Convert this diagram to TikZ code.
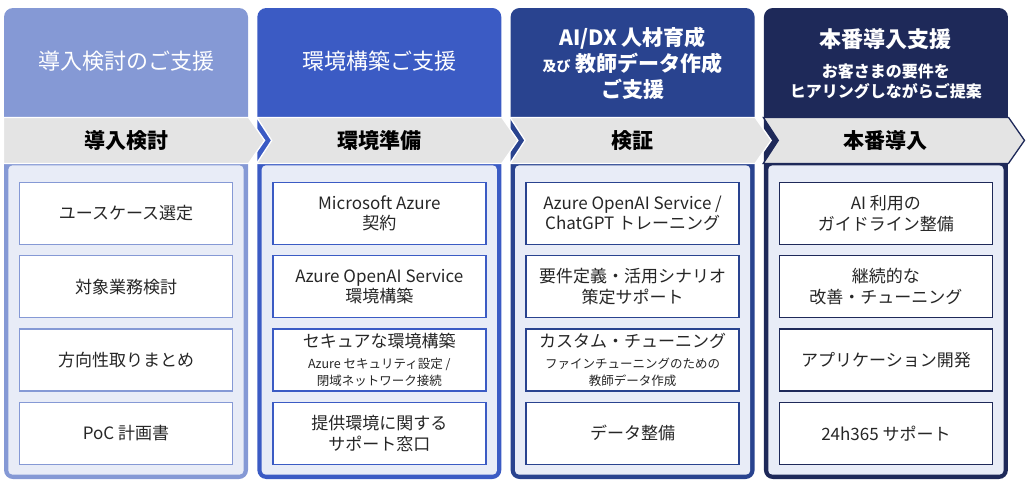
\documentclass[tikz,border=0pt]{standalone}
\usepackage{fontspec}
\setmainfont{Noto Sans CJK JP}
\usetikzlibrary{positioning, calc}
\definecolor{cone}{HTML}{8599D5}
\definecolor{ctwo}{HTML}{3B5BC4}
\definecolor{cthree}{HTML}{29438F}
\definecolor{cfour}{HTML}{1E2959}
\definecolor{cband}{HTML}{E4E4E4}
\definecolor{clite}{HTML}{E8ECF7}
\definecolor{ctext}{HTML}{262626}
\newcommand{\smtxt}{\fontsize{12.5}{14}\selectfont}
\tikzset{
  every picture/.style={x=1pt, y=1pt, line width=1.2pt},
  col/.style={fill=#1, rounded corners=9pt, minimum width=244pt, minimum height=471pt, inner sep=0pt},
  inner/.style={fill=clite, rounded corners=4pt},
  band/.style={fill=cband, draw=#1, line width=1.3pt, line join=miter},
  band/.default=white,
  bandtext/.style={text=black, font=\fontsize{21}{24}\selectfont\bfseries},
  head/.style={text=white, align=center, font=\fontsize{22}{26}\selectfont},
  item/.style={draw=#1, fill=white, line width=1.4pt, minimum width=213pt, minimum height=62pt, inner sep=0pt, align=center, text=ctext, font=\fontsize{17}{20.5}\selectfont},
}

\begin{document}
\begin{tikzpicture}
  \useasboundingbox (0,0) rectangle (1032,-488);
  \foreach \i/\c in {1/cone, 2/ctwo, 3/cthree, 4/cfour}
    \node[col=\c] (c\i) at ({126+253.3*(\i-1)},-243.5) {};
  \foreach \i in {1,...,4}
    \fill[inner] ($(c\i.south west)+(5,5)$) rectangle ($(c\i.north east)+(-5,-158)$);
  \foreach \i/\c/\n in {1/white/0, 2/white/15, 3/white/15, 4/cfour/15}
    \draw[band=\c] ($(c\i.north west)+(0,-110)$) -- ($(c\i.north east)+(0,-110)$) -- ($(c\i.north east)+(16,-133)$)
      -- ($(c\i.north east)+(0,-156)$) -- ($(c\i.north west)+(0,-156)$) -- ($(c\i.north west)+(\n,-133)$) -- cycle;
  \foreach \i/\t in {1/導入検討, 2/環境準備, 3/検証, 4/本番導入}
    \node[bandtext] (b\i) at ($(c\i.north)+(0,-133)$) {\t};
  \node[head] (h1) at ($(c1.north)+(0,-54)$) {導入検討のご支援};
  \node[head] (h2) at ($(c2.north)+(0,-54)$) {環境構築ご支援};
  \node[head, font=\fontsize{21}{26}\selectfont\bfseries] (h3) at ($(c3.north)+(0,-56)$) {AI/DX 人材育成\\{\fontsize{14}{16}\selectfont 及び} 教師データ作成\\ご支援};
  \node[head, font=\fontsize{22}{26}\selectfont\bfseries] (h4) at ($(c4.north)+(0,-32)$) {本番導入支援};
  \node[head, font=\fontsize{16}{20}\selectfont\bfseries] (h4n) at ($(c4.north)+(0,-74)$) {お客さまの要件を\\ヒアリングしながらご提案};
  \foreach \j/\t in {1/ユースケース選定, 2/対象業務検討, 3/方向性取りまとめ, 4/PoC 計画書}
    \node[item=cone] (k1\j) at ($(c1.north)+(0,{-206-73.3*(\j-1)})$) {\t};
  \foreach \j/\t in {1/{Microsoft Azure\\契約}, 2/{Azure OpenAI Service\\環境構築},
                     3/{セキュアな環境構築\\{\smtxt Azure セキュリティ設定 /}\\[-3pt]{\smtxt 閉域ネットワーク接続}}, 4/{提供環境に関する\\サポート窓口}}
    \node[item=ctwo] (k2\j) at ($(c2.north)+(0,{-206-73.3*(\j-1)})$) {\t};
  \foreach \j/\t in {1/{Azure OpenAI Service /\\ChatGPT トレーニング}, 2/{要件定義・活用シナリオ\\策定サポート},
                     3/{カスタム・チューニング\\{\smtxt ファインチューニングのための}\\[-3pt]{\smtxt 教師データ作成}}, 4/データ整備}
    \node[item=cthree] (k3\j) at ($(c3.north)+(0,{-206-73.3*(\j-1)})$) {\t};
  \foreach \j/\t in {1/{AI 利用の\\ガイドライン整備}, 2/{継続的な\\改善・チューニング}, 3/アプリケーション開発, 4/24h365 サポート}
    \node[item=cfour] (k4\j) at ($(c4.north)+(0,{-206-73.3*(\j-1)})$) {\t};
\end{tikzpicture}
\end{document}
